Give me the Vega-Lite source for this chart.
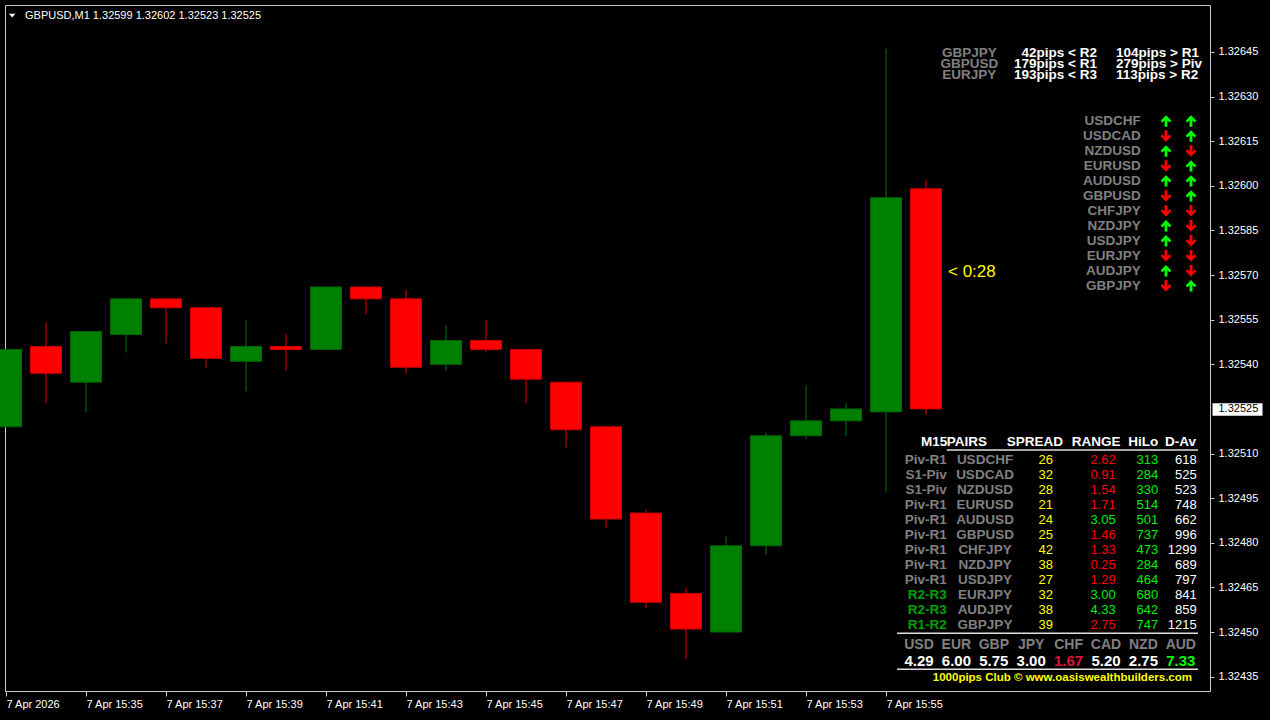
{
  "$schema": "https://vega.github.io/schema/vega-lite/v6.json",
  "width": 1205,
  "height": 686,
  "autosize": {"type": "none"},
  "padding": {"left": 5, "top": 5, "right": 60, "bottom": 29},
  "background": "#000000",
  "config": {"view": {"stroke": "#c8c8c8", "strokeWidth": 1}},
  "datasets": {
    "candles": [
      {"t": "2026-04-07T15:33:00Z", "o": 1.32519, "h": 1.32545, "l": 1.32519, "c": 1.32545},
      {"t": "2026-04-07T15:34:00Z", "o": 1.32546, "h": 1.32554, "l": 1.32527, "c": 1.32537},
      {"t": "2026-04-07T15:35:00Z", "o": 1.32534, "h": 1.32551, "l": 1.32524, "c": 1.32551},
      {"t": "2026-04-07T15:36:00Z", "o": 1.32550, "h": 1.32562, "l": 1.32544, "c": 1.32562},
      {"t": "2026-04-07T15:37:00Z", "o": 1.32562, "h": 1.32562, "l": 1.32547, "c": 1.32559},
      {"t": "2026-04-07T15:38:00Z", "o": 1.32559, "h": 1.32559, "l": 1.32539, "c": 1.32542},
      {"t": "2026-04-07T15:39:00Z", "o": 1.32541, "h": 1.32555, "l": 1.32531, "c": 1.32546},
      {"t": "2026-04-07T15:40:00Z", "o": 1.32546, "h": 1.32550, "l": 1.32538, "c": 1.32545},
      {"t": "2026-04-07T15:41:00Z", "o": 1.32545, "h": 1.32566, "l": 1.32545, "c": 1.32566},
      {"t": "2026-04-07T15:42:00Z", "o": 1.32566, "h": 1.32566, "l": 1.32557, "c": 1.32562},
      {"t": "2026-04-07T15:43:00Z", "o": 1.32562, "h": 1.32565, "l": 1.32537, "c": 1.32539},
      {"t": "2026-04-07T15:44:00Z", "o": 1.32540, "h": 1.32553, "l": 1.32538, "c": 1.32548},
      {"t": "2026-04-07T15:45:00Z", "o": 1.32548, "h": 1.32555, "l": 1.32544, "c": 1.32545},
      {"t": "2026-04-07T15:46:00Z", "o": 1.32545, "h": 1.32545, "l": 1.32527, "c": 1.32535},
      {"t": "2026-04-07T15:47:00Z", "o": 1.32534, "h": 1.32534, "l": 1.32512, "c": 1.32518},
      {"t": "2026-04-07T15:48:00Z", "o": 1.32519, "h": 1.32519, "l": 1.32485, "c": 1.32488},
      {"t": "2026-04-07T15:49:00Z", "o": 1.32490, "h": 1.32491, "l": 1.32458, "c": 1.32460},
      {"t": "2026-04-07T15:50:00Z", "o": 1.32463, "h": 1.32465, "l": 1.32441, "c": 1.32451},
      {"t": "2026-04-07T15:51:00Z", "o": 1.32450, "h": 1.32482, "l": 1.32450, "c": 1.32479},
      {"t": "2026-04-07T15:52:00Z", "o": 1.32479, "h": 1.32517, "l": 1.32476, "c": 1.32516},
      {"t": "2026-04-07T15:53:00Z", "o": 1.32516, "h": 1.32533, "l": 1.32515, "c": 1.32521},
      {"t": "2026-04-07T15:54:00Z", "o": 1.32521, "h": 1.32527, "l": 1.32516, "c": 1.32525},
      {"t": "2026-04-07T15:55:00Z", "o": 1.32524, "h": 1.32646, "l": 1.32497, "c": 1.32596},
      {"t": "2026-04-07T15:56:00Z", "o": 1.32599, "h": 1.32602, "l": 1.32523, "c": 1.32525}
    ],
    "pips": [
      {"row": 0, "pair": "GBPJPY", "near": "42pips < R2", "far": "104pips > R1"},
      {"row": 1, "pair": "GBPUSD", "near": "179pips < R1", "far": "279pips > Piv"},
      {"row": 2, "pair": "EURJPY", "near": "193pips < R3", "far": "113pips > R2"}
    ],
    "arrows": [
      {"row": 0, "pair": "USDCHF", "m15": "up", "h1": "up"},
      {"row": 1, "pair": "USDCAD", "m15": "down", "h1": "up"},
      {"row": 2, "pair": "NZDUSD", "m15": "up", "h1": "down"},
      {"row": 3, "pair": "EURUSD", "m15": "down", "h1": "up"},
      {"row": 4, "pair": "AUDUSD", "m15": "up", "h1": "up"},
      {"row": 5, "pair": "GBPUSD", "m15": "down", "h1": "up"},
      {"row": 6, "pair": "CHFJPY", "m15": "down", "h1": "down"},
      {"row": 7, "pair": "NZDJPY", "m15": "up", "h1": "down"},
      {"row": 8, "pair": "USDJPY", "m15": "up", "h1": "down"},
      {"row": 9, "pair": "EURJPY", "m15": "down", "h1": "down"},
      {"row": 10, "pair": "AUDJPY", "m15": "up", "h1": "down"},
      {"row": 11, "pair": "GBPJPY", "m15": "down", "h1": "up"}
    ],
    "table": [
      {"row": 0, "zone": "Piv-R1", "pair": "USDCHF", "spread": 26, "range": 2.62, "hilo": 313, "dav": 618},
      {"row": 1, "zone": "S1-Piv", "pair": "USDCAD", "spread": 32, "range": 0.91, "hilo": 284, "dav": 525},
      {"row": 2, "zone": "S1-Piv", "pair": "NZDUSD", "spread": 28, "range": 1.54, "hilo": 330, "dav": 523},
      {"row": 3, "zone": "Piv-R1", "pair": "EURUSD", "spread": 21, "range": 1.71, "hilo": 514, "dav": 748},
      {"row": 4, "zone": "Piv-R1", "pair": "AUDUSD", "spread": 24, "range": 3.05, "hilo": 501, "dav": 662},
      {"row": 5, "zone": "Piv-R1", "pair": "GBPUSD", "spread": 25, "range": 1.46, "hilo": 737, "dav": 996},
      {"row": 6, "zone": "Piv-R1", "pair": "CHFJPY", "spread": 42, "range": 1.33, "hilo": 473, "dav": 1299},
      {"row": 7, "zone": "Piv-R1", "pair": "NZDJPY", "spread": 38, "range": 0.25, "hilo": 284, "dav": 689},
      {"row": 8, "zone": "Piv-R1", "pair": "USDJPY", "spread": 27, "range": 1.29, "hilo": 464, "dav": 797},
      {"row": 9, "zone": "R2-R3", "pair": "EURJPY", "spread": 32, "range": 3.00, "hilo": 680, "dav": 841},
      {"row": 10, "zone": "R2-R3", "pair": "AUDJPY", "spread": 38, "range": 4.33, "hilo": 642, "dav": 859},
      {"row": 11, "zone": "R1-R2", "pair": "GBPJPY", "spread": 39, "range": 2.75, "hilo": 747, "dav": 1215}
    ],
    "header": [
      {"k": 0, "h": "M15"},
      {"k": 1, "h": "PAIRS"},
      {"k": 2, "h": "SPREAD"},
      {"k": 3, "h": "RANGE"},
      {"k": 4, "h": "HiLo"},
      {"k": 5, "h": "D-Av"}
    ],
    "strength": [
      {"k": 0, "cur": "USD", "v": 4.29},
      {"k": 1, "cur": "EUR", "v": 6.00},
      {"k": 2, "cur": "GBP", "v": 5.75},
      {"k": 3, "cur": "JPY", "v": 3.00},
      {"k": 4, "cur": "CHF", "v": 1.67},
      {"k": 5, "cur": "CAD", "v": 5.20},
      {"k": 6, "cur": "NZD", "v": 2.75},
      {"k": 7, "cur": "AUD", "v": 7.33}
    ]
  },
  "layer": [
    {
      "data": {"name": "candles"},
      "layer": [
        {
          "mark": {"type": "rule", "strokeWidth": 1.2},
          "encoding": {
            "x": {
              "field": "t", "type": "temporal",
              "scale": {"type": "utc", "nice": false, "padding": 0, "domain": [
                {"year": 2026, "month": 4, "date": 7, "hours": 15, "minutes": 32, "seconds": 58, "milliseconds": 500, "utc": true},
                {"year": 2026, "month": 4, "date": 7, "hours": 16, "minutes": 3, "seconds": 6, "utc": true}
              ]},
              "axis": {
                "values": [
                  {"year": 2026, "month": 4, "date": 7, "hours": 15, "minutes": 33, "utc": true},
                  {"year": 2026, "month": 4, "date": 7, "hours": 15, "minutes": 35, "utc": true},
                  {"year": 2026, "month": 4, "date": 7, "hours": 15, "minutes": 37, "utc": true},
                  {"year": 2026, "month": 4, "date": 7, "hours": 15, "minutes": 39, "utc": true},
                  {"year": 2026, "month": 4, "date": 7, "hours": 15, "minutes": 41, "utc": true},
                  {"year": 2026, "month": 4, "date": 7, "hours": 15, "minutes": 43, "utc": true},
                  {"year": 2026, "month": 4, "date": 7, "hours": 15, "minutes": 45, "utc": true},
                  {"year": 2026, "month": 4, "date": 7, "hours": 15, "minutes": 47, "utc": true},
                  {"year": 2026, "month": 4, "date": 7, "hours": 15, "minutes": 49, "utc": true},
                  {"year": 2026, "month": 4, "date": 7, "hours": 15, "minutes": 51, "utc": true},
                  {"year": 2026, "month": 4, "date": 7, "hours": 15, "minutes": 53, "utc": true},
                  {"year": 2026, "month": 4, "date": 7, "hours": 15, "minutes": 55, "utc": true}
                ],
                "labelExpr": "utcFormat(datum.value, '%H:%M') == '15:33' ? '7 Apr 2026' : utcFormat(datum.value, '%-d %b %H:%M')",
                "labelAlign": "left", "labelBaseline": "top", "labelPadding": 2,
                "labelColor": "#ffffff", "labelFont": "Liberation Sans", "labelFontSize": 11,
                "labelOverlap": false, "labelFlush": false, "labelBound": false,
                "tickSize": 5, "tickColor": "#c8c8c8", "tickWidth": 1,
                "domain": false, "grid": false, "title": null
              }
            },
            "y": {
              "field": "l", "type": "quantitative",
              "scale": {"domain": [1.3243019, 1.3266078], "zero": false, "nice": false, "padding": 0},
              "axis": {
                "orient": "right",
                "values": [1.32645, 1.3263, 1.32615, 1.326, 1.32585, 1.3257, 1.32555, 1.3254, 1.3251, 1.32495, 1.3248, 1.32465, 1.3245, 1.32435],
                "format": ".5f", "labelColor": "#ffffff", "labelFont": "Liberation Sans", "labelFontSize": 11,
                "labelAlign": "left", "labelBaseline": "middle", "labelPadding": 4,
                "tickSize": 4, "tickColor": "#c8c8c8", "domain": false, "grid": false, "title": null,
                "labelOverlap": false, "labelBound": false, "labelFlush": false, "zindex": 1
              }
            },
            "y2": {"field": "h"},
            "color": {"condition": {"test": "datum.c >= datum.o", "value": "#006400"}, "value": "#C00000"}
          }
        },
        {
          "mark": {"type": "bar", "width": 31, "strokeWidth": 1},
          "encoding": {
            "x": {"field": "t", "type": "temporal"},
            "y": {
              "field": "o", "type": "quantitative",
              "axis": {
                "orient": "right", "values": [1.32525], "format": ".5f",
                "labelColor": "#000000", "labelFont": "Liberation Sans", "labelFontSize": 11,
                "labelAlign": "left", "labelBaseline": "middle", "labelPadding": -44,
                "tickSize": 50, "tickWidth": 12.5, "tickColor": "#ffffff", "offset": 2,
                "domain": false, "grid": false, "title": null, "zindex": 2,
                "labelOverlap": false, "labelBound": false, "labelFlush": false
              }
            },
            "y2": {"field": "c"},
            "fill": {"condition": {"test": "datum.c >= datum.o", "value": "#008000"}, "value": "#FF0000"},
            "stroke": {"condition": {"test": "datum.c >= datum.o", "value": "#006400"}, "value": "#C80000"}
          }
        },
        {
          "data": {"values": [{"t": "2026-04-07T15:56:00Z", "p": 1.32571, "label": "< 0:28"}]},
          "mark": {"type": "text", "align": "left", "baseline": "middle", "dx": 22, "font": "Liberation Sans", "fontSize": 17, "color": "#FFFF00"},
          "encoding": {
            "x": {"field": "t", "type": "temporal"},
            "y": {"field": "p", "type": "quantitative", "axis": null},
            "text": {"field": "label"}
          }
        }
      ],
      "resolve": {"axis": {"y": "independent"}}
    },
    {
      "data": {"values": [{"symbol": "GBPUSD,M1", "quote": "GBPUSD,M1  1.32599 1.32602 1.32523 1.32525"}]},
      "encoding": {"y": {"datum": 0, "type": "quantitative", "scale": {"domain": [0, 1], "range": [10.5, 20], "zero": false, "nice": false}, "axis": null}},
      "layer": [
        {
          "mark": {"type": "point", "filled": true, "size": 40, "opacity": 1, "strokeWidth": 0, "color": "#ffffff", "shape": "M-1,-0.55 L1,-0.55 L0,0.6 Z"},
          "encoding": {"x": {"datum": 0, "type": "quantitative", "scale": {"domain": [0, 1], "range": [7.2, 20], "zero": false, "nice": false}, "axis": null}}
        },
        {
          "mark": {"type": "text", "align": "left", "baseline": "middle", "font": "Liberation Sans", "fontSize": 11, "color": "#ffffff"},
          "encoding": {"x": {"datum": 1, "type": "quantitative", "axis": null}, "text": {"field": "quote"}}
        }
      ]
    },
    {
      "data": {"name": "pips"},
      "encoding": {"y": {"field": "row", "type": "quantitative", "scale": {"domain": [0, 2], "range": [48, 70.4], "zero": false, "nice": false}, "axis": null}},
      "layer": [
        {
          "mark": {"type": "text", "align": "center", "baseline": "middle", "font": "Liberation Sans", "fontSize": 13.5, "fontWeight": "bold", "color": "#808080"},
          "encoding": {"x": {"datum": 0, "type": "quantitative", "scale": {"domain": [0, 1, 2], "range": [964.3, 1092, 1111], "zero": false, "nice": false}, "axis": null}, "text": {"field": "pair"}}
        },
        {
          "mark": {"type": "text", "align": "right", "baseline": "middle", "font": "Liberation Sans", "fontSize": 13.5, "fontWeight": "bold", "color": "#ffffff"},
          "encoding": {"x": {"datum": 1, "type": "quantitative", "axis": null}, "text": {"field": "near"}}
        },
        {
          "mark": {"type": "text", "align": "left", "baseline": "middle", "font": "Liberation Sans", "fontSize": 13.5, "fontWeight": "bold", "color": "#ffffff"},
          "encoding": {"x": {"datum": 2, "type": "quantitative", "axis": null}, "text": {"field": "far"}}
        }
      ]
    },
    {
      "data": {"name": "arrows"},
      "encoding": {"y": {"field": "row", "type": "quantitative", "scale": {"domain": [0, 11], "range": [116, 280.7], "zero": false, "nice": false}, "axis": null}},
      "layer": [
        {
          "mark": {"type": "text", "align": "right", "baseline": "middle", "font": "Liberation Sans", "fontSize": 13.5, "fontWeight": "bold", "color": "#808080"},
          "encoding": {"x": {"datum": 0, "type": "quantitative", "scale": {"domain": [0, 1, 2], "range": [1135.7, 1161, 1186], "zero": false, "nice": false}, "axis": null}, "text": {"field": "pair"}}
        },
        {
          "mark": {"type": "point", "filled": true, "size": 130, "opacity": 1, "strokeWidth": 0},
          "encoding": {
            "x": {"datum": 1, "type": "quantitative", "axis": null},
            "shape": {"condition": {"test": "datum.m15 == 'up'", "value": "M0,-1 L0.95,-0.05 L0.62,0.28 L0.25,-0.1 L0.25,1 L-0.25,1 L-0.25,-0.1 L-0.62,0.28 L-0.95,-0.05 Z"}, "value": "M0,1 L0.95,0.05 L0.62,-0.28 L0.25,0.1 L0.25,-1 L-0.25,-1 L-0.25,0.1 L-0.62,-0.28 L-0.95,0.05 Z"},
            "color": {"condition": {"test": "datum.m15 == 'up'", "value": "#00FF00"}, "value": "#FF0000"}
          }
        },
        {
          "mark": {"type": "point", "filled": true, "size": 130, "opacity": 1, "strokeWidth": 0},
          "encoding": {
            "x": {"datum": 2, "type": "quantitative", "axis": null},
            "shape": {"condition": {"test": "datum.h1 == 'up'", "value": "M0,-1 L0.95,-0.05 L0.62,0.28 L0.25,-0.1 L0.25,1 L-0.25,1 L-0.25,-0.1 L-0.62,0.28 L-0.95,-0.05 Z"}, "value": "M0,1 L0.95,0.05 L0.62,-0.28 L0.25,0.1 L0.25,-1 L-0.25,-1 L-0.25,0.1 L-0.62,-0.28 L-0.95,0.05 Z"},
            "color": {"condition": {"test": "datum.h1 == 'up'", "value": "#00FF00"}, "value": "#FF0000"}
          }
        },
        {
          "data": {"values": [{"col": 1, "tf": "M15"}, {"col": 2, "tf": "H1"}]},
          "mark": {"type": "text", "align": "center", "baseline": "middle", "font": "Liberation Sans", "fontSize": 13, "fontWeight": "bold", "color": "#ffffff"},
          "encoding": {
            "x": {"field": "col", "type": "quantitative", "axis": null},
            "y": {"datum": -1, "type": "quantitative", "axis": null},
            "text": {"field": "tf"}
          }
        }
      ]
    },
    {
      "data": {"name": "table"},
      "encoding": {"y": {"field": "row", "type": "quantitative", "scale": {"domain": [0, 11], "range": [454.5, 619.5], "zero": false, "nice": false}, "axis": null}},
      "layer": [
        {
          "mark": {"type": "text", "align": "right", "baseline": "middle", "font": "Liberation Sans", "fontSize": 13.5, "fontWeight": "bold"},
          "encoding": {
            "x": {"datum": 0, "type": "quantitative", "scale": {"domain": [0, 1, 2, 3, 4, 5], "range": [941.7, 980, 1040.7, 1110.7, 1153.3, 1191.7], "zero": false, "nice": false}, "axis": null},
            "text": {"field": "zone"},
            "color": {"condition": {"test": "indexof(datum.zone, 'Piv') < 0", "value": "#00A000"}, "value": "#808080"}
          }
        },
        {
          "mark": {"type": "text", "align": "center", "baseline": "middle", "font": "Liberation Sans", "fontSize": 13.5, "fontWeight": "bold", "color": "#808080"},
          "encoding": {"x": {"datum": 1, "type": "quantitative", "axis": null}, "text": {"field": "pair"}}
        },
        {
          "mark": {"type": "text", "align": "center", "baseline": "middle", "font": "Liberation Sans", "fontSize": 13, "color": "#FFFF00"},
          "encoding": {"x": {"datum": 2, "type": "quantitative", "axis": null}, "text": {"field": "spread", "type": "quantitative"}}
        },
        {
          "mark": {"type": "text", "align": "right", "baseline": "middle", "font": "Liberation Sans", "fontSize": 13},
          "encoding": {
            "x": {"datum": 3, "type": "quantitative", "axis": null},
            "text": {"field": "range", "type": "quantitative", "format": ".2f"},
            "color": {"condition": {"test": "datum.range >= 3", "value": "#00EE00"}, "value": "#FF0000"}
          }
        },
        {
          "mark": {"type": "text", "align": "right", "baseline": "middle", "font": "Liberation Sans", "fontSize": 13, "color": "#00EE00"},
          "encoding": {"x": {"datum": 4, "type": "quantitative", "axis": null}, "text": {"field": "hilo", "type": "quantitative"}}
        },
        {
          "mark": {"type": "text", "align": "right", "baseline": "middle", "font": "Liberation Sans", "fontSize": 13, "color": "#ffffff"},
          "encoding": {"x": {"datum": 5, "type": "quantitative", "axis": null}, "text": {"field": "dav", "type": "quantitative", "format": "d"}}
        }
      ]
    },
    {
      "layer": [
        {
          "data": {"name": "header"},
          "mark": {"type": "text", "align": "left", "baseline": "middle", "font": "Liberation Sans", "fontSize": 13.5, "fontWeight": "bold", "color": "#ffffff"},
          "encoding": {
            "x": {"field": "k", "type": "quantitative", "scale": {"domain": [0, 1, 2, 3, 4, 5, 6], "range": [916, 941.7, 1001.7, 1066.7, 1123.3, 1160, 1193], "zero": false, "nice": false}, "axis": null},
            "y": {"datum": 0, "type": "quantitative", "scale": {"domain": [0, 1], "range": [437, 445], "zero": false, "nice": false}, "axis": null},
            "text": {"field": "h"}
          }
        },
        {
          "data": {"values": [{"line": "underline"}]},
          "mark": {"type": "rule", "strokeWidth": 1.5, "color": "#e0e0e0"},
          "encoding": {
            "x": {"datum": 1, "type": "quantitative", "axis": null},
            "x2": {"datum": 6},
            "y": {"datum": 1, "type": "quantitative", "axis": null}
          }
        }
      ]
    },
    {
      "data": {"name": "strength"},
      "encoding": {"x": {"field": "k", "type": "quantitative", "scale": {"domain": [0, 7], "range": [914, 1175.8], "zero": false, "nice": false}, "axis": null}},
      "layer": [
        {
          "mark": {"type": "text", "align": "center", "baseline": "middle", "font": "Liberation Sans", "fontSize": 14, "fontWeight": "bold", "color": "#808080"},
          "encoding": {
            "y": {"datum": 0, "type": "quantitative", "scale": {"domain": [0, 1], "range": [640, 656], "zero": false, "nice": false}, "axis": null},
            "text": {"field": "cur"}
          }
        },
        {
          "mark": {"type": "text", "align": "center", "baseline": "middle", "font": "Liberation Sans", "fontSize": 15, "fontWeight": "bold"},
          "encoding": {
            "y": {"datum": 1, "type": "quantitative", "axis": null},
            "text": {"field": "v", "type": "quantitative", "format": ".2f"},
            "color": {"condition": [{"test": "datum.v < 2", "value": "#DC143C"}, {"test": "datum.v > 7", "value": "#00FF00"}], "value": "#ffffff"}
          }
        }
      ]
    },
    {
      "layer": [
        {
          "data": {"values": [{"i": 0}, {"i": 1}]},
          "mark": {"type": "rule", "strokeWidth": 1.5, "color": "#e0e0e0"},
          "encoding": {
            "x": {"datum": 0, "type": "quantitative", "scale": {"domain": [0, 1], "range": [892, 1193], "zero": false, "nice": false}, "axis": null},
            "x2": {"datum": 1},
            "y": {"field": "i", "type": "quantitative", "scale": {"domain": [0, 1], "range": [628.3, 664.3], "zero": false, "nice": false}, "axis": null}
          }
        },
        {
          "data": {"values": [{"footer": "1000pips Club © www.oasiswealthbuilders.com"}]},
          "mark": {"type": "text", "align": "right", "baseline": "middle", "dx": -6, "dy": 9, "font": "Liberation Sans", "fontSize": 11.5, "fontWeight": "bold", "color": "#FFFF00"},
          "encoding": {
            "x": {"datum": 1, "type": "quantitative", "axis": null},
            "y": {"datum": 1, "type": "quantitative", "axis": null},
            "text": {"field": "footer"}
          }
        }
      ]
    }
  ],
  "resolve": {"scale": {"x": "independent", "y": "independent"}}
}
